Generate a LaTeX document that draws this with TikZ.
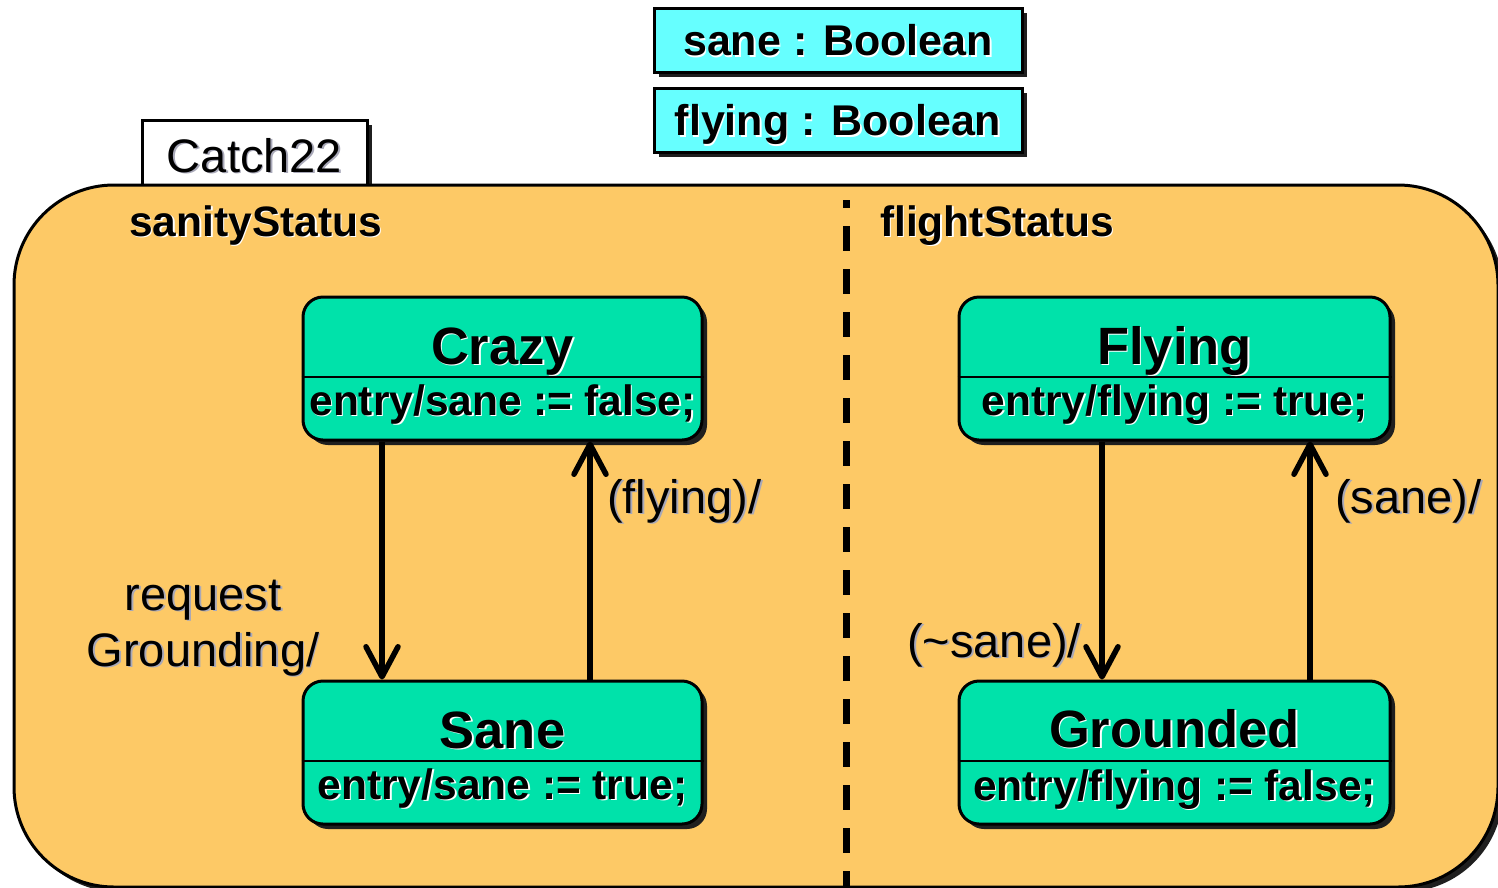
\documentclass[tikz,border=0pt]{standalone}
\usepackage{fontspec}
\setmainfont{Liberation Sans}
\usetikzlibrary{arrows.meta,shadows}
\definecolor{orng}{HTML}{FDC966}
\definecolor{grn}{HTML}{00E2AA}
\definecolor{cyn}{HTML}{66FFFF}
\definecolor{shgrey}{HTML}{A8A8B8}
\newcommand\shw[1]{\leavevmode\rlap{\kern1.6pt\raisebox{-1.6pt}{\textcolor{white}{#1}}}#1}
\newcommand\shg[1]{\leavevmode\rlap{\kern1.8pt\raisebox{-1.8pt}{\textcolor{shgrey}{#1}}}#1}
\tikzset{
  dshadow/.style={drop shadow={shadow xshift=5pt,shadow yshift=-5pt,fill=black!88,opacity=1}},
  varbox/.style={draw,line width=3pt,fill=cyn,dshadow,minimum width=368pt,minimum height=64pt,
    inner sep=0pt,text height=31pt,text depth=0pt,font=\fontsize{43}{50}\selectfont\bfseries},
  tabbox/.style={draw,line width=3pt,fill=white,dshadow,minimum width=225pt,minimum height=65pt,
    inner sep=0pt,text height=39pt,text depth=0pt,font=\fontsize{47}{55}\selectfont},
  container/.style={draw,line width=3pt,fill=orng,rounded corners=100pt,dshadow,inner sep=0pt},
  statebox/.style={draw,line width=3pt,fill=grn,rounded corners=20pt,dshadow,inner sep=0pt,
    minimum height=143pt},
  stitle/.style={anchor=base,inner sep=0pt,font=\fontsize{52.5}{60}\selectfont\bfseries},
  sentry/.style={anchor=base,inner sep=0pt,font=\fontsize{42.5}{50}\selectfont\bfseries},
  region/.style={anchor=base west,inner sep=0pt,font=\fontsize{42.5}{50}\selectfont\bfseries},
  lbl/.style={inner sep=0pt,font=\fontsize{47}{55}\selectfont},
  divider/.style={line width=2.5pt},
  trans/.style={line width=5.5pt,-{Straight Barb[length=30pt,width=32pt,round]}},
  regsep/.style={line width=7pt,dash pattern=on 25pt off 18pt,dash phase=17pt}
}
\begin{document}
\begin{tikzpicture}[x=1pt,y=-1pt]
\useasboundingbox (0,0) rectangle (1498,887);
% variable boxes
\node[varbox] (vsane) at (838,40) {\shw{sane : Boolean}};
\node[varbox] (vfly) at (838,120) {\shw{flying : Boolean}};
% tab
\node[tabbox] (tab) at (254.5,152.5) {\shg{Catch22}};
% container
\node[container,minimum width=1484pt,minimum height=702pt] (catch) at (756,536) {};
% region separator
\coordinate (septop) at (846,200);
\coordinate (sepbot) at (846,887);
\draw[regsep] (septop) -- (sepbot);
% region names
\node[region] (rsan) at (129,236) {\shw{sanityStatus}};
\node[region] (rfli) at (880,236) {\shw{flightStatus}};
% states
\node[statebox,minimum width=399pt] (crazy) at (502.5,368.5) {};
\node[statebox,minimum width=399pt] (sane) at (502.5,752.5) {};
\node[statebox,minimum width=431pt] (flying) at (1174.5,368.5) {};
\node[statebox,minimum width=431pt] (grounded) at (1174.5,752.5) {};
\foreach \s in {crazy,sane,flying,grounded}
  \draw[divider] ([yshift=-8.5pt]\s.west) -- ([yshift=-8.5pt]\s.east);
\node[stitle] (crazyT) at (502.5,364) {\shw{Crazy}};
\node[sentry] (crazyE) at (502.5,415) {\shw{entry/sane := false;}};
\node[stitle] (saneT) at (502.5,748) {\shw{Sane}};
\node[sentry] (saneE) at (502.5,799) {\shw{entry/sane := true;}};
\node[stitle] (flyingT) at (1174.5,364) {\shw{Flying}};
\node[sentry] (flyingE) at (1174.5,415) {\shw{entry/flying := true;}};
\node[stitle] (groundedT) at (1174.5,747) {\shw{Grounded}};
\node[sentry] (groundedE) at (1174.5,800) {\shw{entry/flying := false;}};
% transitions
\draw[trans] ([xshift=-120.5pt]crazy.south) -- ([xshift=-120.5pt]sane.north);
\draw[trans] ([xshift=87.5pt]sane.north) -- ([xshift=87.5pt]crazy.south);
\draw[trans] ([xshift=-72.5pt]flying.south) -- ([xshift=-72.5pt]grounded.north);
\draw[trans] ([xshift=135.5pt]grounded.north) -- ([xshift=135.5pt]flying.south);
% transition labels
\node[lbl,anchor=base] (lreq1) at (203,610) {\shg{request}};
\node[lbl,anchor=base] (lreq2) at (203,666) {\shg{Grounding/}};
\node[lbl,anchor=base west] (lfly) at (607,513) {\shg{(flying)/}};
\node[lbl,anchor=base west] (lnsane) at (907,657) {\shg{(\textasciitilde sane)/}};
\node[lbl,anchor=base west] (lsane) at (1335,513) {\shg{(sane)/}};
\end{tikzpicture}
\end{document}
